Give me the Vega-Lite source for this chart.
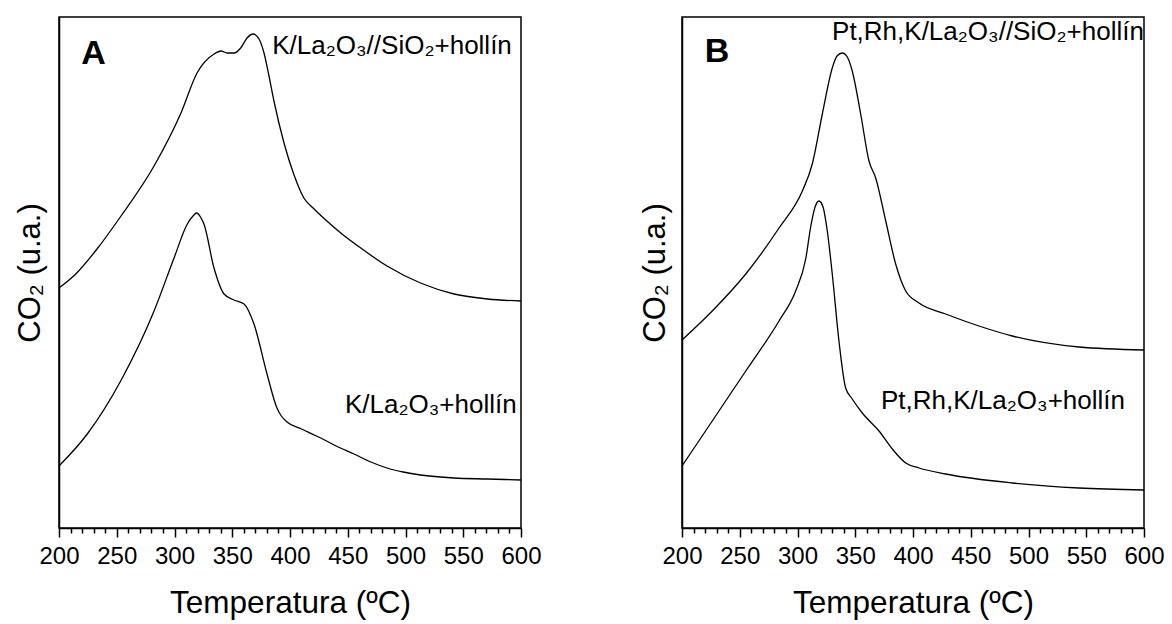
{
  "$schema": "https://vega.github.io/schema/vega-lite/v6.json",
  "background": "white",
  "padding": {"left": 13, "top": 16, "right": 0, "bottom": 0},
  "spacing": 161,
  "bounds": "flush",
  "datasets": {
    "curvesA": [
      {"s": "A1", "T": 200, "v": 240}, {"s": "A1", "T": 214.5, "v": 254}, {"s": "A1", "T": 232.9, "v": 279},
      {"s": "A1", "T": 253.7, "v": 312}, {"s": "A1", "T": 282.3, "v": 362}, {"s": "A1", "T": 305.6, "v": 415},
      {"s": "A1", "T": 319.5, "v": 455}, {"s": "A1", "T": 334.2, "v": 474}, {"s": "A1", "T": 340.3, "v": 477},
      {"s": "A1", "T": 345.5, "v": 475}, {"s": "A1", "T": 351.5, "v": 475}, {"s": "A1", "T": 357.3, "v": 480},
      {"s": "A1", "T": 362.8, "v": 490}, {"s": "A1", "T": 368, "v": 494}, {"s": "A1", "T": 373.2, "v": 489},
      {"s": "A1", "T": 377.5, "v": 475}, {"s": "A1", "T": 381.8, "v": 452}, {"s": "A1", "T": 386.1, "v": 427},
      {"s": "A1", "T": 394.8, "v": 385}, {"s": "A1", "T": 403.5, "v": 353}, {"s": "A1", "T": 412, "v": 330},
      {"s": "A1", "T": 420, "v": 320}, {"s": "A1", "T": 430, "v": 309}, {"s": "A1", "T": 445, "v": 294},
      {"s": "A1", "T": 460, "v": 281}, {"s": "A1", "T": 484, "v": 262}, {"s": "A1", "T": 513, "v": 245},
      {"s": "A1", "T": 542, "v": 234}, {"s": "A1", "T": 571, "v": 229}, {"s": "A1", "T": 600, "v": 227},
      {"s": "A2", "T": 200, "v": 62}, {"s": "A2", "T": 224.5, "v": 94}, {"s": "A2", "T": 253.4, "v": 147},
      {"s": "A2", "T": 282.3, "v": 217}, {"s": "A2", "T": 299.6, "v": 270}, {"s": "A2", "T": 311.1, "v": 304},
      {"s": "A2", "T": 316, "v": 312}, {"s": "A2", "T": 319.2, "v": 315}, {"s": "A2", "T": 323, "v": 310},
      {"s": "A2", "T": 325.5, "v": 304}, {"s": "A2", "T": 334.2, "v": 260}, {"s": "A2", "T": 342.9, "v": 234},
      {"s": "A2", "T": 351.5, "v": 228}, {"s": "A2", "T": 360.2, "v": 224}, {"s": "A2", "T": 368.8, "v": 204},
      {"s": "A2", "T": 380.1, "v": 154}, {"s": "A2", "T": 388.7, "v": 120}, {"s": "A2", "T": 392.5, "v": 112},
      {"s": "A2", "T": 397.4, "v": 106}, {"s": "A2", "T": 410, "v": 99}, {"s": "A2", "T": 426.6, "v": 90},
      {"s": "A2", "T": 440, "v": 82}, {"s": "A2", "T": 455.4, "v": 74}, {"s": "A2", "T": 470, "v": 66},
      {"s": "A2", "T": 484, "v": 60}, {"s": "A2", "T": 498, "v": 56}, {"s": "A2", "T": 513, "v": 53},
      {"s": "A2", "T": 542, "v": 50}, {"s": "A2", "T": 571, "v": 49}, {"s": "A2", "T": 600, "v": 48}
    ],
    "curvesB": [
      {"s": "B1", "T": 200, "v": 188}, {"s": "B1", "T": 226.2, "v": 217}, {"s": "B1", "T": 255.2, "v": 254},
      {"s": "B1", "T": 284, "v": 300}, {"s": "B1", "T": 304.2, "v": 337}, {"s": "B1", "T": 312.8, "v": 364},
      {"s": "B1", "T": 321.5, "v": 414}, {"s": "B1", "T": 330.1, "v": 460}, {"s": "B1", "T": 334.2, "v": 472},
      {"s": "B1", "T": 338.8, "v": 475}, {"s": "B1", "T": 343.1, "v": 471}, {"s": "B1", "T": 347.4, "v": 457},
      {"s": "B1", "T": 354.7, "v": 414}, {"s": "B1", "T": 361.9, "v": 367}, {"s": "B1", "T": 367.7, "v": 350},
      {"s": "B1", "T": 376.4, "v": 307}, {"s": "B1", "T": 385, "v": 264}, {"s": "B1", "T": 393.7, "v": 237},
      {"s": "B1", "T": 405.2, "v": 225}, {"s": "B1", "T": 428.3, "v": 214}, {"s": "B1", "T": 457.1, "v": 202},
      {"s": "B1", "T": 486, "v": 192}, {"s": "B1", "T": 543.7, "v": 181}, {"s": "B1", "T": 600, "v": 178},
      {"s": "B2", "T": 200, "v": 62}, {"s": "B2", "T": 226.2, "v": 107}, {"s": "B2", "T": 255.2, "v": 157},
      {"s": "B2", "T": 284, "v": 207}, {"s": "B2", "T": 298.4, "v": 237}, {"s": "B2", "T": 307.1, "v": 269},
      {"s": "B2", "T": 311.4, "v": 301}, {"s": "B2", "T": 315.2, "v": 321}, {"s": "B2", "T": 318.6, "v": 327},
      {"s": "B2", "T": 322.1, "v": 321}, {"s": "B2", "T": 325.8, "v": 297}, {"s": "B2", "T": 330.1, "v": 254},
      {"s": "B2", "T": 335.9, "v": 187}, {"s": "B2", "T": 341.7, "v": 140}, {"s": "B2", "T": 347.4, "v": 129},
      {"s": "B2", "T": 356.1, "v": 115}, {"s": "B2", "T": 370.6, "v": 97}, {"s": "B2", "T": 382.1, "v": 79},
      {"s": "B2", "T": 393.7, "v": 65}, {"s": "B2", "T": 405.2, "v": 60}, {"s": "B2", "T": 428.3, "v": 54},
      {"s": "B2", "T": 486, "v": 45}, {"s": "B2", "T": 543.7, "v": 40}, {"s": "B2", "T": 600, "v": 38}
    ],
    "lettersA": [{"T": 230, "v": 474, "label": "A"}],
    "lettersB": [{"T": 230.3, "v": 476, "label": "B"}],
    "notesA": [
      {"T": 384.6, "v": 482, "label": "K/La₂O₃//SiO₂+hollín"},
      {"T": 447.6, "v": 123, "label": "K/La₂O₃+hollín"}
    ],
    "notesB": [
      {"T": 329.9, "v": 496, "label": "Pt,Rh,K/La₂O₃//SiO₂+hollín"},
      {"T": 372.3, "v": 127, "label": "Pt,Rh,K/La₂O₃+hollín"}
    ]
  },
  "config": {
    "font": "Liberation Sans",
    "view": {"stroke": "black", "strokeWidth": 1.5},
    "axis": {
      "domainColor": "black", "domainWidth": 1.5, "tickColor": "black",
      "labelColor": "black", "titleColor": "black", "grid": false,
      "labelFont": "Liberation Sans", "titleFont": "Liberation Sans",
      "titleFontWeight": "normal"
    }
  },
  "hconcat": [
    {
      "width": 462, "height": 511,
      "encoding": {
        "x": {"field": "T", "type": "quantitative",
          "scale": {"domain": [200, 600], "nice": false, "zero": false},
          "axis": {"title": "Temperatura (ºC)", "values": [200,210,220,230,240,250,260,270,280,290,300,310,320,330,340,350,360,370,380,390,400,410,420,430,440,450,460,470,480,490,500,510,520,530,540,550,560,570,580,590,600],
            "labelExpr": "datum.value % 50 === 0 ? datum.label : ''", "labelOverlap": false, "labelBound": false, "labelFlush": false,
            "tickSize": {"condition": {"test": "datum.value % 50 === 0", "value": 9}, "value": 5},
            "tickWidth": 1.5, "labelFontSize": 24, "labelPadding": 7, "titleFontSize": 31.5, "titlePadding": 19}},
        "y": {"field": "v", "type": "quantitative",
          "scale": {"domain": [0, 511], "nice": false, "zero": false},
          "axis": {"title": "CO₂ (u.a.)", "labels": false, "ticks": false, "titleFontSize": 31, "titlePadding": 13}}
      },
      "layer": [
        {
          "data": {"name": "curvesA"},
          "mark": {"type": "line", "color": "black", "strokeWidth": 1.3, "interpolate": "monotone"},
          "encoding": {"detail": {"field": "s"}}
        },
        {
          "data": {"name": "lettersA"},
          "mark": {"type": "text", "fontSize": 34, "fontWeight": "bold", "color": "black", "align": "center", "baseline": "middle"},
          "encoding": {"text": {"field": "label"}}
        },
        {
          "data": {"name": "notesA"},
          "mark": {"type": "text", "fontSize": 26, "color": "black", "align": "left", "baseline": "middle"},
          "encoding": {"text": {"field": "label"}}
        }
      ]
    },
    {
      "width": 462, "height": 511,
      "encoding": {
        "x": {"field": "T", "type": "quantitative",
          "scale": {"domain": [200, 600], "nice": false, "zero": false},
          "axis": {"title": "Temperatura (ºC)", "values": [200,210,220,230,240,250,260,270,280,290,300,310,320,330,340,350,360,370,380,390,400,410,420,430,440,450,460,470,480,490,500,510,520,530,540,550,560,570,580,590,600],
            "labelExpr": "datum.value % 50 === 0 ? datum.label : ''", "labelOverlap": false, "labelBound": false, "labelFlush": false,
            "tickSize": {"condition": {"test": "datum.value % 50 === 0", "value": 9}, "value": 5},
            "tickWidth": 1.5, "labelFontSize": 24, "labelPadding": 7, "titleFontSize": 31.5, "titlePadding": 19}},
        "y": {"field": "v", "type": "quantitative",
          "scale": {"domain": [0, 511], "nice": false, "zero": false},
          "axis": {"title": "CO₂ (u.a.)", "labels": false, "ticks": false, "titleFontSize": 31, "titlePadding": 11}}
      },
      "layer": [
        {
          "data": {"name": "curvesB"},
          "mark": {"type": "line", "color": "black", "strokeWidth": 1.3, "interpolate": "monotone"},
          "encoding": {"detail": {"field": "s"}}
        },
        {
          "data": {"name": "lettersB"},
          "mark": {"type": "text", "fontSize": 34, "fontWeight": "bold", "color": "black", "align": "center", "baseline": "middle"},
          "encoding": {"text": {"field": "label"}}
        },
        {
          "data": {"name": "notesB"},
          "mark": {"type": "text", "fontSize": 26, "color": "black", "align": "left", "baseline": "middle"},
          "encoding": {"text": {"field": "label"}}
        }
      ]
    }
  ]
}
